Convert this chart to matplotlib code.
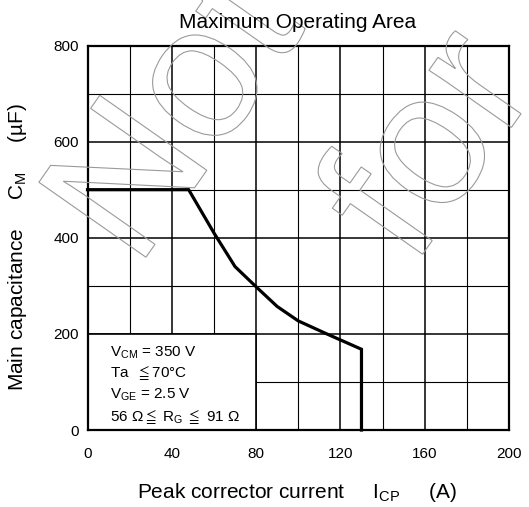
import matplotlib
matplotlib.use('Agg')
import matplotlib.pyplot as plt
from matplotlib.textpath import TextPath
from matplotlib.patches import PathPatch, Rectangle
from matplotlib.font_manager import FontProperties
from matplotlib.transforms import Affine2D, IdentityTransform
from matplotlib.ticker import MultipleLocator

plt.rcParams['font.family'] = ['Liberation Sans', 'DejaVu Sans']
plt.rcParams['mathtext.fontset'] = 'custom'
plt.rcParams['mathtext.rm'] = 'Liberation Sans'
plt.rcParams['mathtext.it'] = 'Liberation Sans:italic'
plt.rcParams['mathtext.bf'] = 'Liberation Sans:bold'
plt.rcParams['mathtext.fallback'] = 'stixsans'

# ---- data ----
current_A = [0, 48, 60, 70, 80, 90, 100, 113, 130, 130]
capacitance_uF = [500, 500, 410, 340, 298, 257, 227, 201, 168, 0]
x_ticks = [0, 40, 80, 120, 160, 200]
y_ticks = [0, 200, 400, 600, 800]
conditions = [r"$\mathrm{V_{CM}}$ = 350 V",
              r"Ta  $\leqq$70°C",
              r"$\mathrm{V_{GE}}$ = 2.5 V",
              r"56 Ω$\leqq$ $\mathrm{R_G}$ $\leqq$ 91 Ω"]
cond_y = [160, 118, 73, 28]
title = "Maximum Operating Area"
xlabel = r"Peak corrector current     $\mathrm{I_{CP}}$     (A)"
ylabel = r"Main capacitance     $\mathrm{C_M}$     (µF)"

W, H = 529, 507
fig = plt.figure(figsize=(W / 100, H / 100), dpi=100)
L, R, T, B = 87.5, 509, 45.5, 430
ax = fig.add_axes([L / W, 1 - B / H, (R - L) / W, (B - T) / H])

ax.set_xlim(0, 200)
ax.set_ylim(0, 800)
ax.set_xticks(x_ticks)
ax.set_yticks(y_ticks)
ax.xaxis.set_minor_locator(MultipleLocator(20))
ax.yaxis.set_minor_locator(MultipleLocator(100))
ax.tick_params(which='both', length=0)
ax.tick_params(axis='x', pad=12, labelsize=11)
ax.tick_params(axis='y', pad=6, labelsize=11)
ax.set_axisbelow(True)
ax.grid(which='major', color='black', lw=1.1)
ax.grid(which='minor', color='black', lw=0.8)
for sp in ax.spines.values():
    sp.set_linewidth(1.6)

ax.add_patch(Rectangle((0, 0), 80, 200, facecolor='white', edgecolor='black',
                       lw=1.2, zorder=1.5))
ax.plot(current_A, capacitance_uF, color='black', lw=2.3, zorder=3,
        solid_joinstyle='miter', clip_on=False)

for txt, yv in zip(conditions, cond_y):
    ax.text(10.5, yv, txt, fontsize=11, va='center', ha='left', zorder=4)

fig.text(298 / W, 1 - 22 / H, title, fontsize=15, ha='center', va='center')
fig.text(297 / W, 1 - 492 / H, xlabel, fontsize=15, ha='center', va='center')
fig.text(18 / W, 1 - 247 / H, ylabel, fontsize=15, ha='center', va='center',
         rotation=90)


def watermark(s, origin, size=190, angle=55, sx=1.0):
    tp = TextPath((0, 0), s, size=1, prop=FontProperties(family='Liberation Sans'))
    tr = Affine2D().scale(size * sx, size).rotate_deg(angle).translate(origin[0], H - origin[1])
    patch = PathPatch(tr.transform_path(tp), facecolor='none', edgecolor='#9a9a9a',
                      lw=0.8, transform=IdentityTransform())
    fig.add_artist(patch)


watermark("Not", (137, 270))
watermark("for", (413, 268))

fig.savefig('out.png', dpi=100)
